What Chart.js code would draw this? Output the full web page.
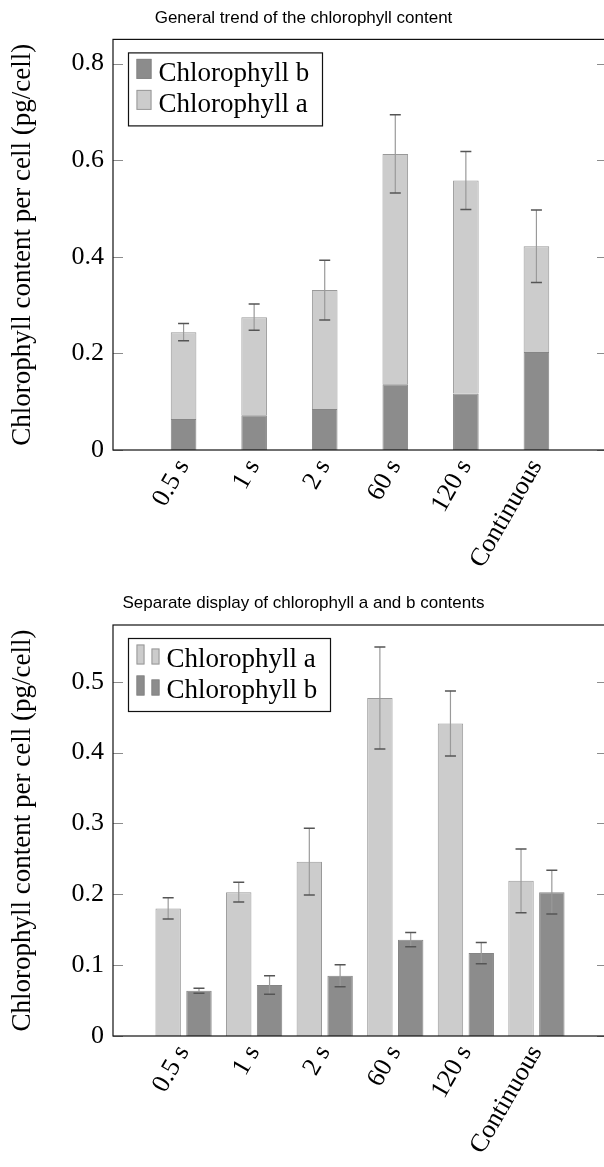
<!DOCTYPE html>
<html>
<head>
<meta charset="utf-8">
<script src="https://cdn.jsdelivr.net/npm/chart.js@4.4.0/dist/chart.umd.min.js"></script>
<style>
  html, body { margin: 0; padding: 0; background: #fff; overflow: hidden; }
  #wrap { position: relative; width: 604px; height: 1167px; overflow: hidden; }
  canvas { position: absolute; left: 0; }
  .preload { position: absolute; left: -999px; top: 0; font: 26px "Liberation Serif"; }
</style>
</head>
<body>
<div id="wrap">
  <span class="preload">Chlorophyll 0.5</span>
  <canvas id="chartTrend" width="612" height="580" style="top:0"></canvas>
  <canvas id="chartSeparate" width="612" height="582" style="top:585px"></canvas>
</div>
<script>
// data
const categories = ['0.5 s', '1 s', '2 s', '60 s', '120 s', 'Continuous'];
const chlA = [0.180, 0.203, 0.246, 0.477, 0.441, 0.219];
const chlB = [0.064, 0.072, 0.085, 0.136, 0.117, 0.203];
const errA = [0.015, 0.014, 0.047, 0.072, 0.046, 0.045];
const errB = [0.0035, 0.013, 0.0155, 0.010, 0.015, 0.031];
const errTotal = [0.018, 0.027, 0.062, 0.081, 0.060, 0.075];
const yTicksTrend = [0, 0.2, 0.4, 0.6, 0.8];
const yTicksSeparate = [0, 0.1, 0.2, 0.3, 0.4, 0.5];

const serif = '"Liberation Serif", "DejaVu Serif", serif';
const lightFill = '#cccccc', lightLine = '#999999';
const darkFill = '#8c8c8c', darkLine = '#858585';

Chart.defaults.font.family = serif;
Chart.defaults.font.size = 26;
Chart.defaults.color = '#000';

// empty slot on both sides so categories sit at 1..6 of 0..7
const xLabels = [''].concat(categories, ['']);
function pad(arr) { return [null].concat(arr, [null]); }

const errorBarPlugin = {
    id: 'errorBars',
    afterDatasetsDraw(chart) {
        const ctx = chart.ctx;
        const y = chart.scales.y;
        chart.data.datasets.forEach((ds, di) => {
            if (!ds.errors) return;
            const meta = chart.getDatasetMeta(di);
            meta.data.forEach((el, i) => {
                const e = ds.errors[i - 1];
                if (e == null || ds.data[i] == null) return;
                const v = y.getValueForPixel(el.y);
                const top = y.getPixelForValue(v + e);
                const bot = y.getPixelForValue(v - e);
                ctx.save();
                ctx.strokeStyle = '#9a9a9a';
                ctx.lineWidth = 1.2;
                ctx.beginPath();
                ctx.moveTo(el.x, top);
                ctx.lineTo(el.x, bot);
                ctx.stroke();
                ctx.strokeStyle = '#555';
                ctx.lineWidth = 1.5;
                ctx.beginPath();
                ctx.moveTo(el.x - 5.5, top); ctx.lineTo(el.x + 5.5, top);
                ctx.moveTo(el.x - 5.5, bot); ctx.lineTo(el.x + 5.5, bot);
                ctx.stroke();
                ctx.restore();
            });
        });
    }
};

const frameAndLegendPlugin = {
    id: 'frameLegend',
    afterDraw(chart, args, opts) {
        const ctx = chart.ctx;
        const a = chart.chartArea;
        const y = chart.scales.y;
        ctx.save();
        // inner tick marks
        ctx.strokeStyle = '#8c8c8c';
        ctx.lineWidth = 1;
        y.ticks.forEach(t => {
            const py = Math.round(y.getPixelForValue(t.value)) + 0.5;
            ctx.beginPath();
            ctx.moveTo(a.left, py); ctx.lineTo(a.left + 10, py);
            ctx.moveTo(a.right - 10, py); ctx.lineTo(a.right, py);
            ctx.stroke();
        });
        // axis box
        ctx.strokeStyle = '#111';
        ctx.lineWidth = 1.2;
        ctx.strokeRect(a.left, a.top, a.right - a.left, a.bottom - a.top);

        // legend
        const lx = a.left + 15.5, ly = a.top + 13.5;
        ctx.fillStyle = '#fff';
        ctx.fillRect(lx, ly, opts.width, 73);
        ctx.strokeStyle = '#111';
        ctx.lineWidth = 1.2;
        ctx.strokeRect(lx, ly, opts.width, 73);
        ctx.font = '27px ' + serif;
        ctx.textBaseline = 'alphabetic';
        opts.items.forEach((it, k) => {
            const top = ly + 6 + k * 31;
            ctx.lineWidth = 1;
            ctx.strokeStyle = it.line;
            ctx.fillStyle = it.fill;
            if (opts.pairs) {
                ctx.fillRect(lx + 8, top, 8, 20);
                ctx.strokeRect(lx + 8.5, top + 0.5, 7, 19);
                ctx.fillRect(lx + 23, top + 4, 8, 16);
                ctx.strokeRect(lx + 23.5, top + 4.5, 7, 15);
            } else {
                ctx.fillRect(lx + 8, top, 15, 20);
                ctx.strokeRect(lx + 8.5, top + 0.5, 14, 19);
            }
            ctx.fillStyle = '#000';
            ctx.fillText(it.text, lx + (opts.pairs ? 38 : 30), top + 22);
        });
        ctx.restore();
    }
};

function makeChart(canvasId, cfg) {
    const ctx = document.getElementById(canvasId).getContext('2d');
    return new Chart(ctx, {
        type: 'bar',
        data: {
            labels: xLabels,
            datasets: cfg.datasets
        },
        options: {
            responsive: false,
            animation: false,
            devicePixelRatio: 1,
            layout: { padding: { right: 5, left: 0, top: 0, bottom: 0 } },
            plugins: {
                legend: { display: false },
                tooltip: { enabled: false },
                title: {
                    display: true,
                    text: cfg.title,
                    color: '#000',
                    font: { family: '"Liberation Sans", Arial, sans-serif', size: 17, weight: 'normal' },
                    padding: { top: 8, bottom: cfg.titleGap }
                },
                frameLegend: cfg.legend
            },
            scales: {
                x: {
                    stacked: cfg.stacked,
                    offset: false,
                    grid: { display: false, drawTicks: false },
                    border: { display: false },
                    ticks: {
                        autoSkip: false,
                        minRotation: 60,
                        maxRotation: 60,
                        padding: 4
                    },
                    afterFit: s => {
                        s.height = cfg.xHeight;
                        s.paddingLeft = 0;
                        s.paddingRight = 0;
                    }
                },
                y: {
                    stacked: cfg.stacked,
                    min: 0,
                    max: cfg.yMax,
                    grid: { display: false, drawTicks: false },
                    border: { display: false },
                    afterBuildTicks: s => { s.ticks = cfg.yTicks.map(v => ({ value: v })); },
                    afterFit: s => { s.width = 113; },
                    ticks: { padding: 9 },
                    title: {
                        display: true,
                        text: 'Chlorophyll content per cell (pg/cell)',
                        font: { size: 27 },
                        padding: { top: 7, bottom: 0 }
                    }
                }
            }
        },
        plugins: [errorBarPlugin, frameAndLegendPlugin]
    });
}

function drawAll() {
    makeChart('chartTrend', {
        title: 'General trend of the chlorophyll content',
        titleGap: 11,
        stacked: true,
        yMax: 0.85,
        yTicks: yTicksTrend,
        xHeight: 130,
        datasets: [{
            label: 'Chlorophyll b',
            data: pad(chlB),
            backgroundColor: darkFill,
            borderColor: darkLine,
            borderWidth: 1,
            categoryPercentage: 1,
            barPercentage: 0.363
        }, {
            label: 'Chlorophyll a',
            data: pad(chlA),
            errors: errTotal,
            backgroundColor: lightFill,
            borderColor: lightLine,
            borderWidth: 1,
            categoryPercentage: 1,
            barPercentage: 0.363
        }],
        legend: {
            width: 194,
            pairs: false,
            items: [
                { text: 'Chlorophyll b', fill: darkFill, line: darkLine },
                { text: 'Chlorophyll a', fill: lightFill, line: lightLine }
            ]
        }
    });

    makeChart('chartSeparate', {
        title: 'Separate display of chlorophyll a and b contents',
        titleGap: 11.6,
        stacked: false,
        yMax: 0.58,
        yTicks: yTicksSeparate,
        xHeight: 131,
        datasets: [{
            label: 'Chlorophyll a',
            data: pad(chlA),
            errors: errA,
            backgroundColor: lightFill,
            borderColor: lightLine,
            borderWidth: 1,
            categoryPercentage: 0.873,
            barPercentage: 0.825
        }, {
            label: 'Chlorophyll b',
            data: pad(chlB),
            errors: errB,
            backgroundColor: darkFill,
            borderColor: darkLine,
            borderWidth: 1,
            categoryPercentage: 0.873,
            barPercentage: 0.825
        }],
        legend: {
            width: 202,
            pairs: true,
            items: [
                { text: 'Chlorophyll a', fill: lightFill, line: lightLine },
                { text: 'Chlorophyll b', fill: darkFill, line: darkLine }
            ]
        }
    });
}

document.fonts.load('26px "Liberation Serif"').then(drawAll, drawAll);
</script>
</body>
</html>
